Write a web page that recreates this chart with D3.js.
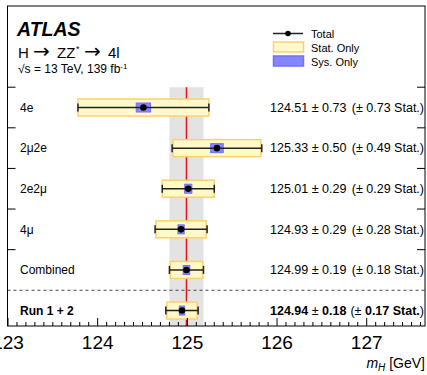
<!DOCTYPE html>
<html><head><meta charset="utf-8">
<script src="https://cdn.jsdelivr.net/npm/d3@7"></script>
<style>body{margin:0;background:#fff} text{font-family:"Liberation Sans",Arial,Helvetica,sans-serif;fill:#000}</style>
</head><body>
<svg id="c" width="427" height="375"></svg>
<script>
const categories = ["4e", "2μ2e", "2e2μ", "4μ", "Combined", "Run 1 + 2"];
const central   = [124.51, 125.33, 125.01, 124.93, 124.99, 124.94];
const totalErr  = [0.73, 0.50, 0.29, 0.29, 0.19, 0.18];
const statErr   = [0.73, 0.49, 0.29, 0.28, 0.18, 0.17];
const sysErr    = [0.08, 0.07, 0.04, 0.035, 0.037, 0.03];
const xTicks    = [123, 124, 125, 126, 127];
const refValue  = 124.99, refErr = 0.19;

const svg = d3.select("#c");
const L = 7.5, R = 425, T = 6, B = 326;
const x = d3.scaleLinear().domain([123, 127.65]).range([L + 0.5, R]);
const y = d3.scaleLinear().domain([-2.5, 5.38]).range([T, B]);

// reference band and line
svg.append("rect").attr("x", x(refValue - refErr)).attr("width", x(refValue + refErr) - x(refValue - refErr))
  .attr("y", y(-0.5)).attr("height", B - y(-0.5)).attr("fill", "#e3e3e3");
svg.append("line").attr("x1", x(refValue)).attr("x2", x(refValue)).attr("y1", y(-0.5)).attr("y2", B)
  .attr("stroke", "#e8141a").attr("stroke-width", 1.5);

// dashed separator
svg.append("line").attr("x1", L).attr("x2", R).attr("y1", y(4.5)).attr("y2", y(4.5))
  .attr("stroke", "#444").attr("stroke-width", 1.2).attr("stroke-dasharray", "3,3");

const rows = categories.map((c, i) => ({c, i, v: central[i], t: totalErr[i], s: statErr[i], sy: sysErr[i]}));
const g = svg.selectAll("g.row").data(rows).join("g").attr("class", "row");
// stat box
g.append("rect").attr("x", d => x(d.v - d.s)).attr("width", d => x(d.v + d.s) - x(d.v - d.s))
  .attr("y", d => y(d.i) - 8.5).attr("height", 17)
  .attr("fill", "#fffac8").attr("stroke", "#fdcf73").attr("stroke-width", 1.5);
// sys box
g.append("rect").attr("x", d => x(d.v - d.sy)).attr("width", d => x(d.v + d.sy) - x(d.v - d.sy))
  .attr("y", d => y(d.i) - 4.5).attr("height", 9)
  .attr("fill", "#8585ff").attr("stroke", "#7070ff").attr("stroke-width", 1);
// total error bar
g.append("line").attr("x1", d => x(d.v - d.t)).attr("x2", d => x(d.v + d.t))
  .attr("y1", d => y(d.i)).attr("y2", d => y(d.i)).attr("stroke", "#222").attr("stroke-width", 1.5);
[-1, 1].forEach(sgn => {
  g.append("line").attr("x1", d => x(d.v + sgn * d.t)).attr("x2", d => x(d.v + sgn * d.t))
    .attr("y1", d => y(d.i) - 4).attr("y2", d => y(d.i) + 4).attr("stroke", "#222").attr("stroke-width", 1.5);
});
g.append("circle").attr("cx", d => x(d.v)).attr("cy", d => y(d.i)).attr("r", 3.3).attr("fill", "#000");

// labels
g.append("text").attr("x", 20).attr("y", d => y(d.i) + 4.3).attr("font-size", 12)
  .attr("font-weight", d => d.i === 5 ? "bold" : "normal").text(d => d.c);
const vt = g.append("text").attr("x", 270).attr("y", d => y(d.i) + 4.3).attr("font-size", 12.5)
  .attr("font-weight", d => d.i === 5 ? "bold" : "normal");
vt.append("tspan").text(d => d.v.toFixed(2) + " ");
vt.append("tspan").attr("font-weight", "normal").text("±");
vt.append("tspan").text(d => " " + d.t.toFixed(2));
const st = g.append("text").attr("x", 424).attr("text-anchor", "end").attr("y", d => y(d.i) + 4.3).attr("font-size", 12.5)
  .attr("font-weight", d => d.i === 5 ? "bold" : "normal");
st.append("tspan").attr("font-weight", "normal").text("(±");
st.append("tspan").text(d => ` ${d.s.toFixed(2)} Stat.`);
st.append("tspan").attr("font-weight", "normal").text(")");

// frame
svg.append("rect").attr("x", L).attr("y", T).attr("width", R - L).attr("height", B - T)
  .attr("fill", "none").attr("stroke", "#000").attr("stroke-width", 1);

// y boundary ticks
const yb = [0, 1, 2, 3, 4].map(i => i - 0.5);
yb.forEach(b => {
  svg.append("line").attr("x1", L).attr("x2", L + 8).attr("y1", y(b)).attr("y2", y(b)).attr("stroke", "#000");
  svg.append("line").attr("x1", R - 8).attr("x2", R).attr("y1", y(b)).attr("y2", y(b)).attr("stroke", "#000");
});

// x axis ticks
const minor = d3.range(123, 127.65, 0.1);
minor.forEach(m => {
  const isMajor = Math.abs(m - Math.round(m)) < 1e-6;
  svg.append("line").attr("x1", x(m)).attr("x2", x(m)).attr("y1", B).attr("y2", B - (isMajor ? 8 : 4))
    .attr("stroke", "#000").attr("stroke-width", 1);
});
svg.selectAll("text.xt").data(xTicks).join("text").attr("class", "xt")
  .attr("x", d => x(d)).attr("y", 349).attr("text-anchor", "middle").attr("font-size", 19).text(d => d);

// axis title
const at = svg.append("text").attr("x", 425).attr("y", 368).attr("text-anchor", "end").attr("font-size", 14);
at.append("tspan").attr("font-style", "italic").text("m");
at.append("tspan").attr("font-style", "italic").attr("font-size", 10).attr("dy", 3).text("H");
at.append("tspan").attr("dy", -3).text(" [GeV]");

// titles
svg.append("text").attr("x", 17).attr("y", 36).attr("font-size", 19.5).attr("font-weight", "bold")
  .attr("font-style", "italic").text("ATLAS");
const ht = svg.append("text").attr("y", 58).attr("font-size", 15);
ht.append("tspan").attr("x", 18).text("H");
ht.append("tspan").attr("x", 33).attr("font-family", "DejaVu Sans").attr("font-size", 20).text("→");
ht.append("tspan").attr("x", 57).text("ZZ");
ht.append("tspan").attr("x", 76).attr("font-size", 9).attr("dy", -6).text("*");
ht.append("tspan").attr("x", 84).attr("dy", 6).attr("font-family", "DejaVu Sans").attr("font-size", 20).text("→");
ht.append("tspan").attr("x", 108).text("4l");
const sq = svg.append("text").attr("x", 18).attr("y", 73).attr("font-size", 12);
sq.append("tspan").text("√s = 13 TeV, 139 fb");
sq.append("tspan").attr("font-size", 8).attr("dy", -4).text("-1");

// legend
svg.append("line").attr("x1", 273).attr("x2", 303).attr("y1", 33.5).attr("y2", 33.5).attr("stroke", "#222").attr("stroke-width", 1.5);
svg.append("circle").attr("cx", 288).attr("cy", 33.5).attr("r", 2.8).attr("fill", "#000");
svg.append("rect").attr("x", 273.5).attr("y", 42).attr("width", 30).attr("height", 10)
  .attr("fill", "#fffac8").attr("stroke", "#fdcf73").attr("stroke-width", 1.5);
svg.append("rect").attr("x", 273.5).attr("y", 56).attr("width", 30).attr("height", 10)
  .attr("fill", "#8585ff").attr("stroke", "#7070ff").attr("stroke-width", 1.5);
[["Total", 37.5], ["Stat. Only", 51.5], ["Sys. Only", 65.5]].forEach(([t, yy]) =>
  svg.append("text").attr("x", 311).attr("y", yy).attr("font-size", 11).text(t));
</script>
</body></html>
